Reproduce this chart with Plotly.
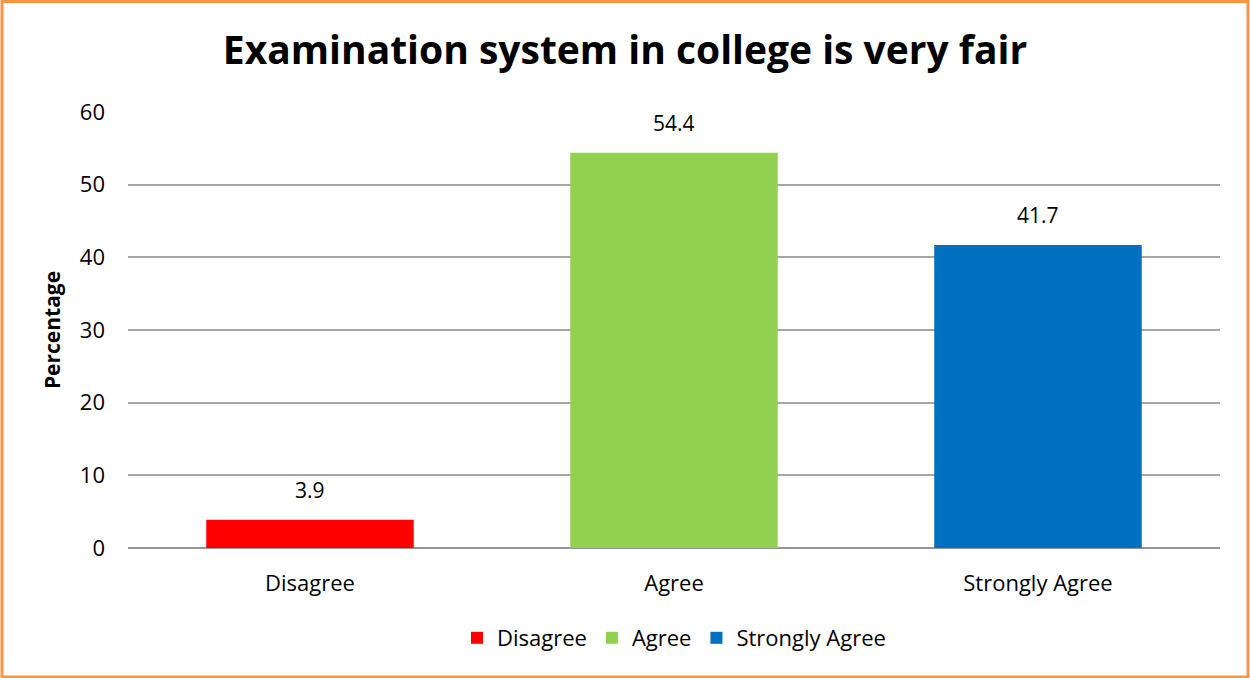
import plotly.graph_objects as go

categories = ["Disagree", "Agree", "Strongly Agree"]
values = [3.9, 54.4, 41.7]
colors = ["#FF0000", "#92D050", "#0070C0"]
tick_vals = [0, 10, 20, 30, 40, 50, 60]

W, H = 1250, 678
L, R, T, B = 128, 30, 112, 130
pw, ph = W - L - R, H - T - B

fig = go.Figure()
for c, v, col in zip(categories, values, colors):
    fig.add_trace(go.Bar(
        x=[c], y=[v], name=c, marker_color=col, marker_line_width=0,
    ))

annotations = [
    dict(x=c, y=v, xref="x", yref="y", text=f"{v}", showarrow=False,
         yanchor="bottom", yshift=14, font=dict(size=21, color="#000000"))
    for c, v in zip(categories, values)
]

def px_x(p):
    return (p - L) / pw

def px_y(p):
    return (H - B - p) / ph

fig.update_layout(
    width=W, height=H,
    margin=dict(l=L, r=R, t=T, b=B),
    paper_bgcolor="white", plot_bgcolor="white",
    font=dict(family="Open Sans, Noto Sans, sans-serif", size=22, color="#000000"),
    title=dict(text="<b>Examination system in college is very fair</b>",
               font=dict(size=39, color="#000000"),
               x=0.5, xanchor="center", y=1 - 50 / H, yanchor="middle"),
    barmode="relative", bargap=0.43,
    showlegend=True,
    legend=dict(orientation="h", x=0.5, xanchor="center", y=px_y(638), yanchor="middle",
                font=dict(size=22), itemwidth=30, traceorder="normal"),
    xaxis=dict(showgrid=False, showline=False, ticks="", tickfont=dict(size=22),
               ticklabelstandoff=20),
    yaxis=dict(range=[0, 60], tickvals=tick_vals, showgrid=True, gridcolor="#A6A6A6",
               gridwidth=1.5, zeroline=True, zerolinecolor="#969696", zerolinewidth=2,
               ticks="", tickfont=dict(size=22), ticklabelstandoff=22,
               title=dict(text="<b>Percentage</b>", font=dict(size=21), standoff=13)),
    annotations=annotations,
    shapes=[dict(type="rect", xref="paper", yref="paper",
                 x0=px_x(2), x1=px_x(1248), y0=px_y(677), y1=px_y(1.5),
                 line=dict(color="#F79646", width=3), fillcolor="rgba(0,0,0,0)",
                 layer="above")],
)

fig.write_html("out.html", config={"displayModeBar": False},
               post_script="document.body.style.margin='0';")
